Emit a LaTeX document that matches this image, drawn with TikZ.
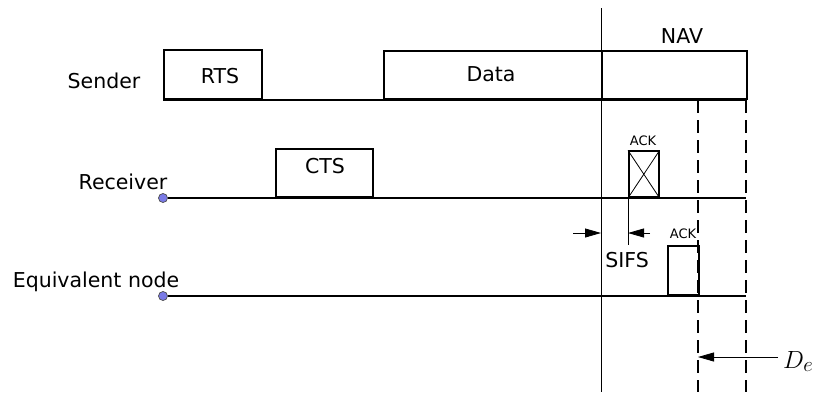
\documentclass[tikz,border=0pt]{standalone}
\usepackage{fontspec}
\setsansfont{DejaVu Sans}
\usetikzlibrary{arrows.meta,calc}
\definecolor{dotblue}{RGB}{122,122,230}
\begin{document}
\begin{tikzpicture}[x=1pt,y=-1pt,
  lbl/.style={font=\sffamily\fontsize{20.5}{24}\selectfont, inner sep=0, anchor=base},
  small/.style={font=\sffamily\fontsize{13}{15}\selectfont, inner sep=0, anchor=base},
  slot/.style={draw, line width=1.6pt, inner sep=0, anchor=south west},
  axis/.style={line width=1.9pt},
  thinline/.style={line width=0.8pt},
  guide/.style={line width=2pt, dash pattern=on 13pt off 7pt},
  startdot/.style={circle, draw=black!70, fill=dotblue, line width=0.7pt, inner sep=0, minimum size=9pt},
  tip/.style={-{Triangle[length=16pt,width=9pt]}, line width=0.8pt}
]
\useasboundingbox (0,0) rectangle (815,392);

% row labels
\node[lbl] (lsender) at (104,88) {Sender};
\node[lbl] (lreceiver) at (123,189) {Receiver};
\node[lbl] (lequiv) at (96,287) {Equivalent node};

% sender frames
\node[slot, minimum width=98pt, minimum height=49pt] (rts) at (163,100) {};
\node[lbl] (trts) at (220,83) {RTS};
\node[slot, minimum width=218pt, minimum height=48pt] (data) at (383,100) {};
\node[lbl] (tdata) at (491,81) {Data};
\node[slot, minimum width=145pt, minimum height=48pt] (nav) at (601,100) {};
\node[lbl] (tnav) at (682,43) {NAV};

% receiver frames
\node[slot, minimum width=97pt, minimum height=48pt] (cts) at (275,198) {};
\node[lbl] (tcts) at (325,173) {CTS};
\node[slot, minimum width=30pt, minimum height=46pt] (ackr) at (628,198) {};
\draw[thinline] (ackr.north west) -- (ackr.south east)
                (ackr.north east) -- (ackr.south west);
\node[small] (tackr) at (643,145) {ACK};

% equivalent node frame
\node[slot, minimum width=31pt, minimum height=49pt] (acke) at (667,296) {};
\node[small] (tacke) at (683,238) {ACK};

% time axes
\coordinate (s1) at (746,100);
\draw[axis] (rts.south west) -- (s1);
\coordinate (r1) at (746,198);
\coordinate (e1) at (746,296);
\node[startdot] (rdot) at (163,198) {};
\draw[axis] (rdot) -- (r1);
\node[startdot] (edot) at (163,296) {};
\draw[axis] (edot) -- (e1);

% reference line at the end of the data frame
\coordinate (v0) at (601,8);
\coordinate (v1) at (601,392);
\draw[thinline] (v0) -- (v1);

% SIFS marker
\coordinate (m0) at (628,150);
\coordinate (m1) at (628,245);
\draw[thinline] (m0) -- (m1);
\coordinate (sa0) at (573,233);
\coordinate (sa1) at (601,233);
\coordinate (sb0) at (650,233);
\coordinate (sb1) at (628,233);
\draw[tip] (sa0) -- (sa1);
\draw[tip] (sb0) -- (sb1);
\node[lbl] (tsifs) at (627,267) {SIFS};

% dashed guides
\coordinate (g0) at (698,100);
\coordinate (g1) at (698,392);
\coordinate (h0) at (746,100);
\coordinate (h1) at (746,392);
\draw[guide] (g0) -- (g1);
\draw[guide] (h0) -- (h1);

% D_e marker
\coordinate (d0) at (778,357);
\coordinate (d1) at (698,357);
\draw[tip] (d0) -- (d1);
\node[inner sep=0, anchor=base west, font=\fontsize{28}{32}\selectfont] (tde) at (783,368) {$D_e$};
\end{tikzpicture}
\end{document}
